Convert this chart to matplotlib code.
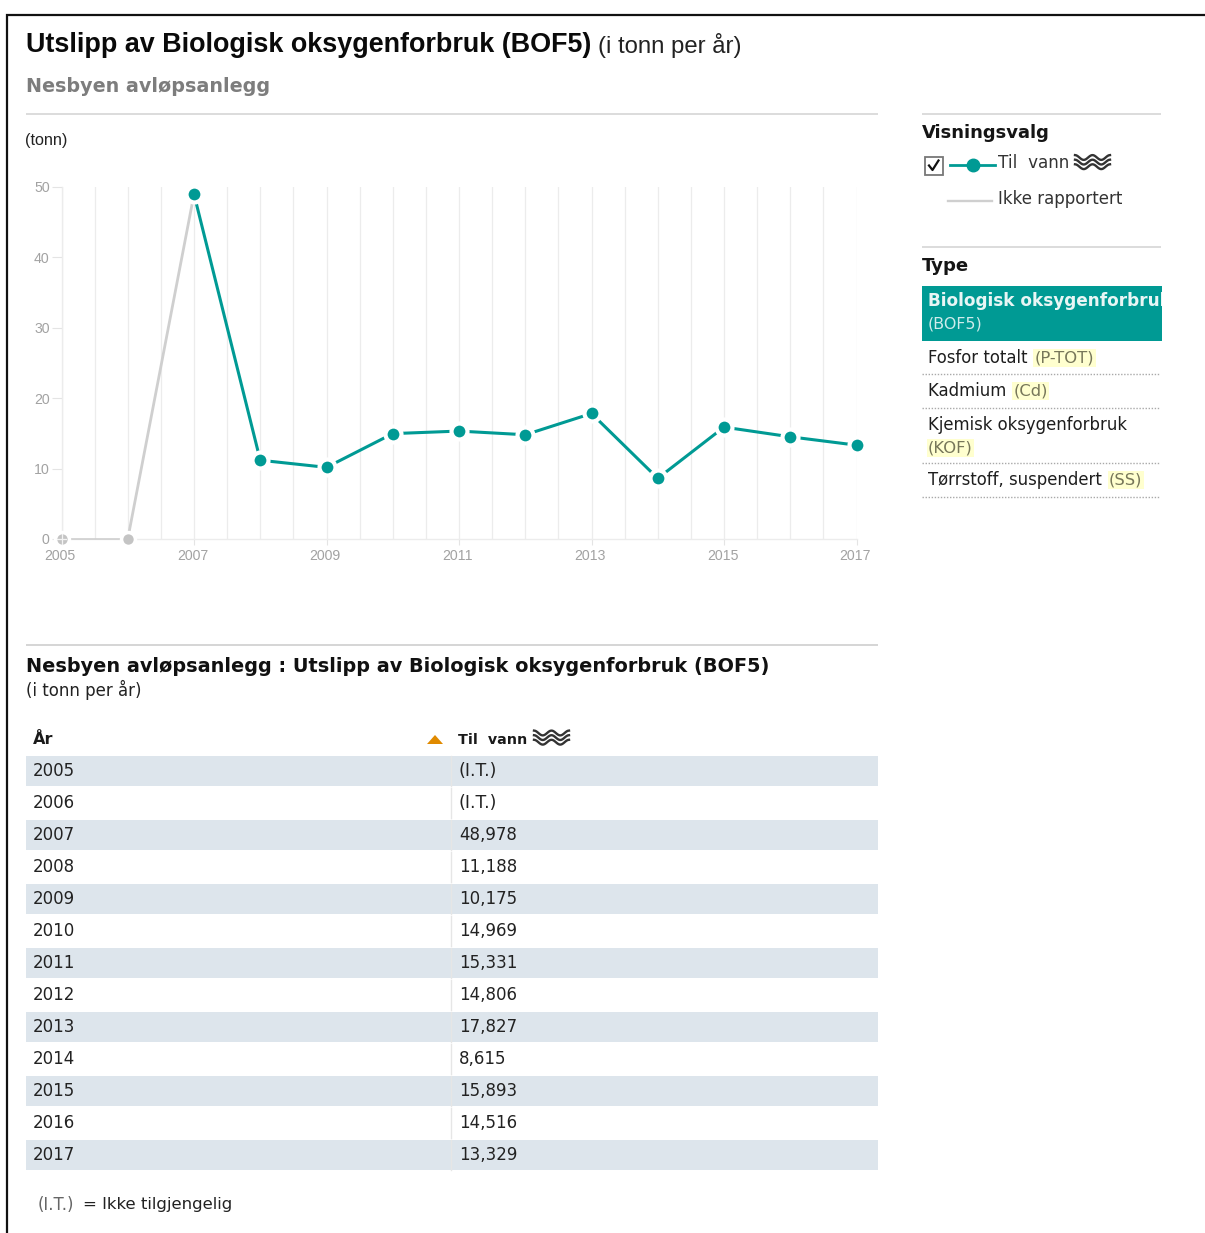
import numpy as np
import matplotlib
matplotlib.use("Agg")
import matplotlib.pyplot as plt
from matplotlib.patches import Rectangle, Polygon
from matplotlib.transforms import ScaledTranslation

# ---- data ----
years = [2005, 2006, 2007, 2008, 2009, 2010, 2011, 2012, 2013, 2014, 2015, 2016, 2017]
til_vann = [None, None, 48.978, 11.188, 10.175, 14.969, 15.331, 14.806, 17.827, 8.615, 15.893, 14.516, 13.329]
ikke_rapportert_years = [2005, 2006, 2007]
ikke_rapportert_values = [0, 0, 48.978]
table_labels = ["(I.T.)", "(I.T.)", "48,978", "11,188", "10,175", "14,969", "15,331",
                "14,806", "17,827", "8,615", "15,893", "14,516", "13,329"]
y_ticks = [0, 10, 20, 30, 40, 50]
x_label_years = [2005, 2007, 2009, 2011, 2013, 2015, 2017]
x_grid_years = [2005 + 0.5 * i for i in range(25)]
type_items = [("Fosfor totalt ", "(P-TOT)"), ("Kadmium ", "(Cd)"), ("Tørrstoff, suspendert ", "(SS)")]

W, H = 1205, 1233
TEAL = "#009a94"
GRAY = "#cfcfcf"
RULE = "#d2d2d2"
SANS = "Liberation Sans"
VERD = "DejaVu Sans"

fig = plt.figure(figsize=(W / 100, H / 100), dpi=100, facecolor="white")

# full-figure pixel layer
pg = fig.add_axes([0, 0, 1, 1])
pg.set_xlim(0, W)
pg.set_ylim(H, 0)
pg.axis("off")


def hline(x0, x1, y, color=RULE, lw=1.1, ls="-"):
    pg.plot([x0, x1], [y, y], color=color, lw=lw, ls=ls, solid_capstyle="butt")


def txt(x, y, s, size=12, color="#222222", weight="normal", family=VERD, **kw):
    kw.setdefault("va", "center")
    return pg.text(x, y, s, fontsize=size, color=color, fontweight=weight, family=family, **kw)


def waves(x0, y0, w=36, color="#333333"):
    t = np.linspace(0, 1, 40)
    for k in range(3):
        pg.plot(x0 + w * t, y0 + k * 4.6 + 2.4 * np.cos(t * 4 * np.pi + np.pi), color=color, lw=1.7)


# outer frame
pg.plot([7, 7, W], [H, 15, 15], color="#111111", lw=1.6, solid_joinstyle="miter")

# headings
txt(26, 44.5, "Utslipp av Biologisk oksygenforbruk (BOF5)", size=19.4, color="#0a0a0a", weight="bold", family=SANS)
txt(598, 45, "(i tonn per år)", size=17.2, color="#222222", family=SANS)
txt(26, 87, "Nesbyen avløpsanlegg", size=13.8, color="#7d7d7d", weight="bold")
hline(26, 878, 113.5)
txt(25, 140, "(tonn)", size=11.7, color="#222222", family=SANS)

# chart axes: 2005 at x=61.5, 2017 at x=856, 0 at y=539, 50 at y=187
left, right, top, bottom = 61.5, 856.5, 187, 539
ax = fig.add_axes([left / W, 1 - bottom / H, (right - left) / W, (bottom - top) / H], zorder=3)
ax.patch.set_alpha(0)
ax.set_xlim(2005, 2017)
ax.set_ylim(0, 50)
for s in ["top", "right"]:
    ax.spines[s].set_visible(False)
for s in ["left", "bottom"]:
    ax.spines[s].set_color("#ececec")
    ax.spines[s].set_linewidth(1.0)
for xg in x_grid_years:
    ax.axvline(xg, color="#ececec", lw=0.9, zorder=1)
ax.set_yticks(y_ticks)
ax.set_xticks(x_label_years)
ax.set_xticklabels(x_label_years, family=SANS, fontsize=10.2, color="#a2a2a2")
ax.set_yticklabels(y_ticks, family=SANS, fontsize=10.2, color="#a2a2a2")
ax.tick_params(axis="y", length=7, width=0.8, color="#e4e4e4", pad=1.5)
ax.tick_params(axis="x", length=4, width=0.8, color="#e4e4e4", pad=3)
shift = ScaledTranslation(-1.5 / 100, 0, fig.dpi_scale_trans)
for lab in ax.get_xticklabels():
    lab.set_transform(lab.get_transform() + shift)

ax.plot(ikke_rapportert_years[:2], ikke_rapportert_values[:2], color=GRAY, lw=1.2, zorder=3, clip_on=False)
ax.plot(ikke_rapportert_years[1:], ikke_rapportert_values[1:], color=GRAY, lw=2.0, zorder=3, clip_on=False)
ax.plot(ikke_rapportert_years[:2], ikke_rapportert_values[:2], ls="none", marker="o", ms=10,
        mfc="#c4c4c4", mec="white", mew=2.5, zorder=4, clip_on=False)
ax.plot([2005, 2005], [-0.7, 0.7], color="#f4f4f4", lw=0.9, zorder=5, clip_on=False)
ax.plot([2004.93, 2005.07], [0, 0], color="#f4f4f4", lw=0.9, zorder=5, clip_on=False)

yrs = [y for y, v in zip(years, til_vann) if v is not None]
vals = [v for v in til_vann if v is not None]
ax.plot(yrs, vals, color=TEAL, lw=2.2, marker="o", ms=11.5, mfc=TEAL, mec="white", mew=3,
        zorder=6, clip_on=False)

# right panel: Visningsvalg
hline(922, 1161, 113.5)
txt(922, 133, "Visningsvalg", size=13, color="#151515", weight="bold")
pg.add_patch(Rectangle((924.5, 156.5), 18, 18.5, fc="white", ec="#777777", lw=1.3))
pg.plot([929, 932.5, 938.5], [165.5, 170, 160.5], color="#111111", lw=1.6)
pg.plot([950, 995], [165, 165], color=TEAL, lw=2.0)
pg.plot([973], [165], marker="o", ms=9, color=TEAL)
txt(998, 163.5, "Til  vann", size=12.1, color="#333333")
waves(1075, 157.5, w=35)
pg.plot([948, 992], [200.5, 200.5], color=GRAY, lw=1.7)
txt(998, 199.5, "Ikke rapportert", size=12.0, color="#333333")

# right panel: Type
hline(922, 1161, 246.5)
txt(922, 266, "Type", size=13, color="#151515", weight="bold")
box = Rectangle((922, 286), 239.5, 55, fc=TEAL, ec="none")
pg.add_patch(box)
t = txt(928, 300.5, "Biologisk oksygenforbruk", size=12.2, color="#e8f6f5", weight="bold")
t.set_clip_path(box)
t.set_clip_on(True)
txt(928, 324, "(BOF5)", size=11.4, color="#cfeceb")

HL = dict(boxstyle="square,pad=0.08", fc="#ffffcf", ec="none")
NAMEC = "#1e1e1e"
CODEC = "#77775a"
rend = fig.canvas.get_renderer()


def item(y, name, code):
    a = txt(928, y, name, size=11.9, color=NAMEC)
    x1 = a.get_window_extent(rend).x1
    txt(x1 + 2, y, code, size=11.8, color=CODEC, bbox=HL)


item(358, *type_items[0])
hline(922, 1160, 373.5, color="#a9a9a9", lw=1, ls=(0, (1, 1.2)))
item(391, *type_items[1])
hline(922, 1160, 407.5, color="#a9a9a9", lw=1, ls=(0, (1, 1.2)))
txt(928, 425, "Kjemisk oksygenforbruk", size=11.9, color=NAMEC)
txt(928, 448, "(KOF)", size=11.8, color=CODEC, bbox=HL)
hline(922, 1160, 462.5, color="#a9a9a9", lw=1, ls=(0, (1, 1.2)))
item(480, *type_items[2])
hline(922, 1160, 497, color="#a9a9a9", lw=1, ls=(0, (1, 1.2)))

# table section
hline(26, 878, 645, lw=1.3)
txt(26, 666, "Nesbyen avløpsanlegg : Utslipp av Biologisk oksygenforbruk (BOF5)", size=13.9, color="#111111", weight="bold")
txt(26, 690, "(i tonn per år)", size=12, color="#222222")
txt(33, 739.5, "År", size=11.5, color="#1a1a1a", weight="bold")
pg.add_patch(Polygon([[427, 744], [443, 744], [435, 735]], closed=True, fc="#e08a00", ec="none"))
txt(458, 740.5, "Til  vann", size=10.3, color="#1a1a1a", weight="bold")
waves(534, 733, w=35)

row_pitch = 32.0
for i, (yr, lab) in enumerate(zip(years, table_labels)):
    yc = 771 + i * row_pitch
    if i % 2 == 0:
        pg.add_patch(Rectangle((26, yc - 15), 852, 30, fc="#dde5ec", ec="none", zorder=0))
    pg.plot([450.5, 450.5], [yc - 15, yc + 15], color="#e6e6e6", lw=1, zorder=1)
    txt(33, yc, str(yr), size=12, color="#222222")
    txt(459, yc, lab, size=12.6 if lab.startswith("(") else 12, color="#222222")

txt(38, 1205, "(I.T.)", size=12.0, color="#666666")
txt(83, 1205, "= Ikke tilgjengelig", size=11.85, color="#222222")

fig.savefig("out.png", dpi=100, facecolor="white")
